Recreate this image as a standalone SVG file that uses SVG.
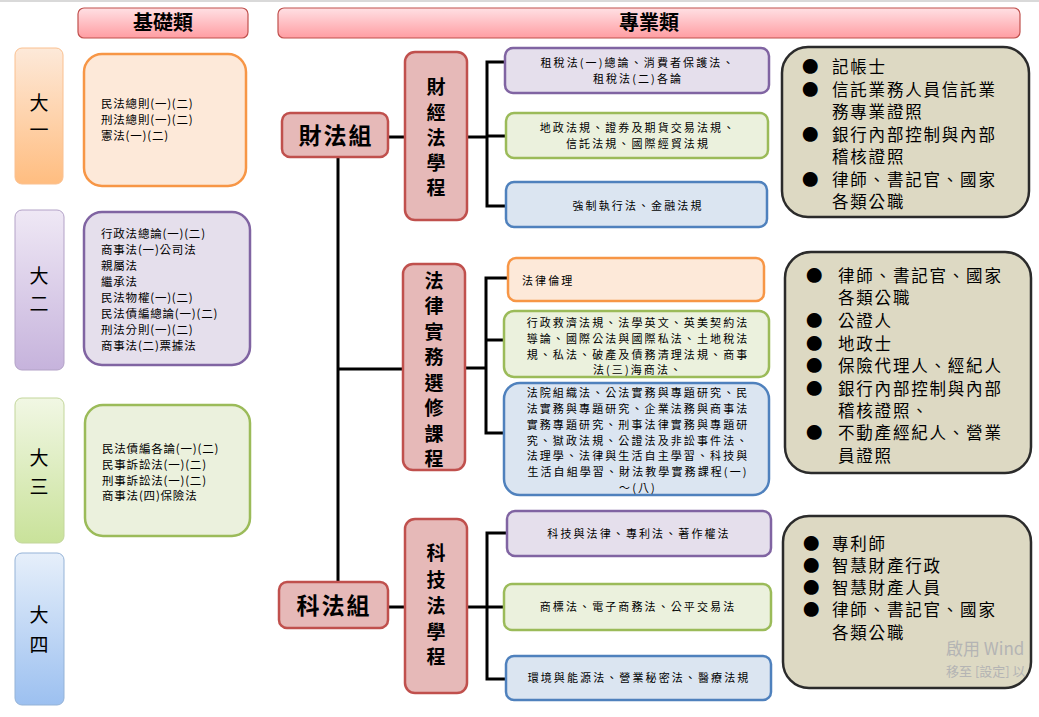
<svg xmlns="http://www.w3.org/2000/svg" width="1039" height="717" viewBox="0 0 1039 717">
<defs>
<linearGradient id="hdr" x1="0" y1="0" x2="0" y2="1"><stop offset="0" stop-color="#ffe0e4"/><stop offset="1" stop-color="#ff9da2"/></linearGradient>
<linearGradient id="go" x1="0" y1="0" x2="0" y2="1"><stop offset="0" stop-color="#fde9d9"/><stop offset="1" stop-color="#ffbd80"/></linearGradient>
<linearGradient id="gp" x1="0" y1="0" x2="0" y2="1"><stop offset="0" stop-color="#efe8f5"/><stop offset="1" stop-color="#c6b3dc"/></linearGradient>
<linearGradient id="gg" x1="0" y1="0" x2="0" y2="1"><stop offset="0" stop-color="#f1f7e4"/><stop offset="1" stop-color="#c9e29a"/></linearGradient>
<linearGradient id="gb" x1="0" y1="0" x2="0" y2="1"><stop offset="0" stop-color="#e6effa"/><stop offset="1" stop-color="#9cc0f0"/></linearGradient>
</defs>
<style>
text{font-family:"Noto Sans CJK TC","Noto Sans CJK SC",sans-serif;fill:#000}
.hdr{fill:url(#hdr);stroke:#c0504d;stroke-width:1.2}
.ht{font-size:20px;font-weight:bold;text-anchor:middle}
.grp{fill:#e6b9b8;stroke:#c0504d;stroke-width:2.5}
.gt{font-size:23px;font-weight:bold;text-anchor:middle;letter-spacing:2px}
.vt{font-size:19px;font-weight:bold;text-anchor:middle}
.o{fill:#fde9d9;stroke:#f79646;stroke-width:2.5}
.p{fill:#e5dfec;stroke:#8064a2;stroke-width:2.5}
.g{fill:#ebf1dd;stroke:#9bbb59;stroke-width:2.5}
.b{fill:#dbe5f1;stroke:#4f81bd;stroke-width:2.5}
.tan{fill:#ddd9c3;stroke:#2b2b2b;stroke-width:2.5}
.s{font-size:11px;text-anchor:middle;letter-spacing:2.1px}
.l{font-size:11.5px;letter-spacing:0.8px}
.t{font-size:16.5px;letter-spacing:1.8px}
.yr{font-size:19px;text-anchor:middle}
.c{stroke:#000;stroke-width:3;fill:none}
</style>
<line x1="0" y1="1" x2="1039" y2="1" stroke="#d9d9d9" stroke-width="2"/>
<g id="hdr-basic"><rect class="hdr" x="78" y="8" width="170" height="30" rx="6"/><text class="ht" x="163" y="30">基礎類</text></g>
<g id="hdr-pro"><rect class="hdr" x="278" y="8" width="742" height="30" rx="6"/><text class="ht" x="649" y="30">專業類</text></g>

<g id="y1"><rect x="15" y="48" width="48" height="136" rx="7" fill="url(#go)" stroke="#fac090"/><text class="yr" x="39" y="110">大</text><text class="yr" x="39" y="137">一</text></g>
<g id="y2"><rect x="15" y="210" width="49" height="160" rx="7" fill="url(#gp)" stroke="#b3a2c7"/><text class="yr" x="39" y="283">大</text><text class="yr" x="39" y="311">二</text></g>
<g id="y3"><rect x="15" y="398" width="49" height="145" rx="7" fill="url(#gg)" stroke="#c3d69b"/><text class="yr" x="39" y="465">大</text><text class="yr" x="39" y="494">三</text></g>
<g id="y4"><rect x="15" y="553" width="49" height="152" rx="7" fill="url(#gb)" stroke="#95b3d7"/><text class="yr" x="39" y="622">大</text><text class="yr" x="39" y="652">四</text></g>

<g id="b1"><rect class="o" x="84" y="54" width="162" height="132" rx="18"/>
<text class="l" x="101" y="108">民法總則(一)(二)</text><text class="l" x="101" y="124">刑法總則(一)(二)</text><text class="l" x="101" y="140">憲法(一)(二)</text></g>
<g id="b2"><rect class="p" x="84" y="212" width="166" height="153" rx="18"/>
<text class="l" x="101" y="238">行政法總論(一)(二)</text><text class="l" x="101" y="254">商事法(一)公司法</text><text class="l" x="101" y="270">親屬法</text><text class="l" x="101" y="286">繼承法</text><text class="l" x="101" y="302">民法物權(一)(二)</text><text class="l" x="101" y="318">民法債編總論(一)(二)</text><text class="l" x="101" y="334">刑法分則(一)(二)</text><text class="l" x="101" y="350">商事法(二)票據法</text></g>
<g id="b3"><rect class="g" x="85" y="405" width="165" height="131" rx="18"/>
<text class="l" x="102" y="453">民法債編各論(一)(二)</text><text class="l" x="102" y="469">民事訴訟法(一)(二)</text><text class="l" x="102" y="485">刑事訴訟法(一)(二)</text><text class="l" x="102" y="500">商事法(四)保險法</text></g>

<g id="connectors">
<line class="c" x1="338" y1="157" x2="338" y2="583"/>
<line class="c" x1="338" y1="369" x2="403" y2="369"/>
<line class="c" x1="388" y1="137" x2="405" y2="137"/>
<line class="c" x1="388" y1="607" x2="405" y2="607"/>
<line class="c" x1="467" y1="137" x2="487" y2="137"/>
<polyline class="c" points="505,62 487,62 487,206 506,206"/>
<line class="c" x1="487" y1="136" x2="506" y2="136"/>
<line class="c" x1="465" y1="368" x2="486" y2="368"/>
<polyline class="c" points="508,278 486,278 486,433 504,433"/>
<line class="c" x1="486" y1="340" x2="504" y2="340"/>
<line class="c" x1="467" y1="607" x2="487" y2="607"/>
<polyline class="c" points="507,533 487,533 487,679 506,679"/>
<line class="c" x1="487" y1="607" x2="504" y2="607"/>
</g>

<g id="caifa"><rect class="grp" x="282" y="113" width="106" height="44" rx="8"/><text class="gt" x="336" y="144">財法組</text></g>
<g id="kefa"><rect class="grp" x="279" y="582" width="109" height="46" rx="8"/><text class="gt" x="334" y="614">科法組</text></g>
<g id="p1"><rect class="grp" x="405" y="52" width="62" height="168" rx="10"/>
<text class="vt" x="436" y="94">財</text><text class="vt" x="436" y="120">經</text><text class="vt" x="436" y="145">法</text><text class="vt" x="436" y="170">學</text><text class="vt" x="436" y="195">程</text></g>
<g id="p2"><rect class="grp" x="403" y="264" width="62" height="206" rx="10"/>
<text class="vt" x="434" y="288">法</text><text class="vt" x="434" y="313">律</text><text class="vt" x="434" y="339">實</text><text class="vt" x="434" y="364">務</text><text class="vt" x="434" y="390">選</text><text class="vt" x="434" y="415">修</text><text class="vt" x="434" y="441">課</text><text class="vt" x="434" y="466">程</text></g>
<g id="p3"><rect class="grp" x="405" y="519" width="62" height="174" rx="10"/>
<text class="vt" x="436" y="560">科</text><text class="vt" x="436" y="587">技</text><text class="vt" x="436" y="613">法</text><text class="vt" x="436" y="639">學</text><text class="vt" x="436" y="664">程</text></g>

<g id="c1"><rect class="p" x="505" y="48" width="264" height="45" rx="8"/><text class="s" x="638" y="67">租稅法(一)總論、消費者保護法、</text><text class="s" x="638" y="83">租稅法(二)各論</text></g>
<g id="c2"><rect class="g" x="506" y="113" width="262" height="45" rx="8"/><text class="s" x="638" y="132">地政法規、證券及期貨交易法規、</text><text class="s" x="638" y="148">信託法規、國際經貿法規</text></g>
<g id="c3"><rect class="b" x="506" y="182" width="261" height="45" rx="8"/><text class="s" x="638" y="210">強制執行法、金融法規</text></g>
<g id="c4"><rect class="o" x="508" y="258" width="256" height="43" rx="8"/><text class="s" x="522" y="285" style="text-anchor:start">法律倫理</text></g>
<g id="c5"><rect class="g" x="504" y="311" width="265" height="66" rx="10"/>
<text class="s" x="638" y="327">行政救濟法規、法學英文、英美契約法</text><text class="s" x="638" y="343">導論、國際公法與國際私法、土地稅法</text><text class="s" x="638" y="359">規、私法、破產及債務清理法規、商事</text><text class="s" x="638" y="374">法(三)海商法、</text></g>
<g id="c6"><rect class="b" x="504" y="383" width="265" height="112" rx="16"/>
<text class="s" x="638" y="397">法院組織法、公法實務與專題研究、民</text><text class="s" x="638" y="413">法實務與專題研究、企業法務與商事法</text><text class="s" x="638" y="429">實務專題研究、刑事法律實務與專題研</text><text class="s" x="638" y="445">究、獄政法規、公證法及非訟事件法、</text><text class="s" x="638" y="460">法理學、法律與生活自主學習、科技與</text><text class="s" x="638" y="476">生活自組學習、財法教學實務課程(一)</text><text class="s" x="638" y="492">～(八)</text></g>
<g id="c7"><rect class="p" x="507" y="511" width="264" height="45" rx="8"/><text class="s" x="639" y="538">科技與法律、專利法、著作權法</text></g>
<g id="c8"><rect class="g" x="504" y="584" width="267" height="46" rx="8"/><text class="s" x="638" y="611">商標法、電子商務法、公平交易法</text></g>
<g id="c9"><rect class="b" x="506" y="656" width="265" height="44" rx="8"/><text class="s" x="639" y="682">環境與能源法、營業秘密法、醫療法規</text></g>

<g id="jobs1"><rect class="tan" x="782" y="47" width="247" height="170" rx="26"/>
<g font-size="16.5"><text x="802" y="73">●</text><text x="802" y="96">●</text><text x="802" y="141">●</text><text x="802" y="186">●</text></g>
<text class="t" x="832" y="73">記帳士</text><text class="t" x="832" y="96">信託業務人員信託業</text><text class="t" x="832" y="118">務專業證照</text><text class="t" x="832" y="141">銀行內部控制與內部</text><text class="t" x="832" y="163">稽核證照</text><text class="t" x="832" y="186">律師、書記官、國家</text><text class="t" x="832" y="208">各類公職</text></g>
<g id="jobs2"><rect class="tan" x="785" y="252" width="246" height="221" rx="26"/>
<g font-size="16.5"><text x="806" y="282">●</text><text x="806" y="327">●</text><text x="806" y="350">●</text><text x="806" y="372">●</text><text x="806" y="395">●</text><text x="806" y="439">●</text></g>
<text class="t" x="838" y="282">律師、書記官、國家</text><text class="t" x="838" y="304">各類公職</text><text class="t" x="838" y="327">公證人</text><text class="t" x="838" y="350">地政士</text><text class="t" x="838" y="372">保險代理人、經紀人</text><text class="t" x="838" y="395">銀行內部控制與內部</text><text class="t" x="838" y="417">稽核證照、</text><text class="t" x="838" y="439">不動產經紀人、營業</text><text class="t" x="838" y="462">員證照</text></g>
<g id="jobs3"><rect class="tan" x="783" y="516" width="248" height="172" rx="26"/>
<g font-size="16.5"><text x="803" y="550">●</text><text x="803" y="572">●</text><text x="803" y="594">●</text><text x="803" y="616">●</text></g>
<text class="t" x="832" y="550">專利師</text><text class="t" x="832" y="572">智慧財產行政</text><text class="t" x="832" y="594">智慧財產人員</text><text class="t" x="832" y="616">律師、書記官、國家</text><text class="t" x="832" y="639">各類公職</text></g>
<text x="946" y="655" style="font-size:17px;fill:#b4b4b4">啟用 Wind</text>
<text x="946" y="676" style="font-size:13px;fill:#b4b4b4">移至 [設定] 以</text>
</svg>
